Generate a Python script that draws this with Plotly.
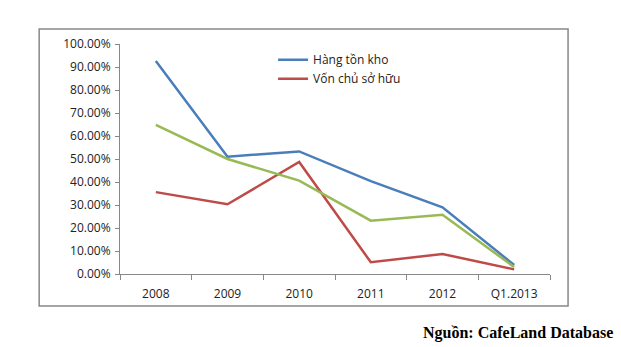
import plotly.graph_objects as go

categories = ["2008", "2009", "2010", "2011", "2012", "Q1.2013"]
hang_ton_kho = [0.926, 0.510, 0.533, 0.404, 0.290, 0.039]
von_chu_so_huu = [0.356, 0.303, 0.487, 0.051, 0.087, 0.020]
third_series = [0.648, 0.500, 0.406, 0.232, 0.258, 0.030]
y_ticks = [i / 10 for i in range(11)]

fig = go.Figure()
fig.add_trace(go.Scatter(x=categories, y=hang_ton_kho, mode="lines", name="Hàng tồn kho",
                         line=dict(color="#4A7EBB", width=2.5)))
fig.add_trace(go.Scatter(x=categories, y=von_chu_so_huu, mode="lines", name="Vốn chủ sở hữu",
                         line=dict(color="#BE4B48", width=2.5)))
fig.add_trace(go.Scatter(x=categories, y=third_series, mode="lines", name="",
                         line=dict(color="#98B954", width=2.5), showlegend=False))

fig.update_layout(
    width=621, height=347,
    margin=dict(l=120, r=71, t=44, b=73),
    paper_bgcolor="white", plot_bgcolor="white",
    font=dict(family="Open Sans", size=12, color="#222"),
    legend=dict(x=0.356, y=0.995, xanchor="left", yanchor="top", bgcolor="rgba(0,0,0,0)",
                itemwidth=30, tracegroupgap=0, font=dict(size=12)),
    xaxis=dict(type="category", showgrid=False, showline=True, linecolor="#888",
               ticks="outside", tickson="boundaries", ticklen=5, tickcolor="#888",
               ticklabelstandoff=9, range=[-0.5, 5.5]),
    yaxis=dict(range=[0, 1], tickvals=y_ticks, tickformat=".2%", showgrid=False, showline=True,
               linecolor="#888", ticks="outside", ticklen=4, tickcolor="#888", zeroline=False,
               ticklabelstandoff=2),
    shapes=[dict(type="rect", xref="paper", yref="paper", x0=-0.188, x1=1.042, y0=-0.139, y1=1.065,
                 line=dict(color="#888", width=1.5))],
    annotations=[dict(text="<b>Nguồn: CafeLand Database</b>", xref="paper", yref="paper",
                      x=(615 - 120) / 430, y=(274 - 333) / 230, xanchor="right", yanchor="middle",
                      showarrow=False, font=dict(family="Liberation Serif", size=16, color="black"))],
)
fig.write_html("out.html")
